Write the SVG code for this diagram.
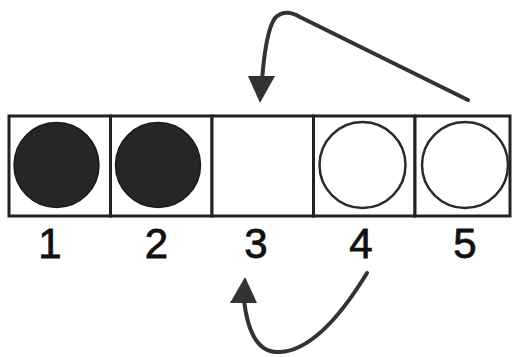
<svg xmlns="http://www.w3.org/2000/svg" width="512" height="357" viewBox="0 0 512 357">
<style>
.cell{fill:#fff;stroke:#222;stroke-width:3}
.full{fill:#262626;stroke:#1a1a1a;stroke-width:1.5}
.empty{fill:#fff;stroke:#2a2a2a;stroke-width:2.5}
.lbl{font-family:"Liberation Sans",Arial,sans-serif;font-size:42px;fill:#111;stroke:#111;stroke-width:0.8;text-anchor:middle}
.conn{fill:none;stroke:#333;stroke-width:4;stroke-linecap:round}
.head{fill:#333}
</style>
<rect width="512" height="357" fill="#fff"/>
<g id="cell1"><rect class="cell" x="9" y="116" width="101.5" height="100"/><circle class="full" cx="56.5" cy="165" r="42.5"/><text class="lbl" x="50" y="258">1</text></g>
<g id="cell2"><rect class="cell" x="110.5" y="116" width="101.5" height="100"/><circle class="full" cx="158" cy="165" r="42.5"/><text class="lbl" x="156.5" y="258">2</text></g>
<g id="cell3"><rect class="cell" x="212" y="116" width="101.5" height="100"/><text class="lbl" x="256" y="258">3</text></g>
<g id="cell4"><rect class="cell" x="313.5" y="116" width="101.5" height="100"/><circle class="empty" cx="362.5" cy="165" r="43"/><text class="lbl" x="361" y="258">4</text></g>
<g id="cell5"><rect class="cell" x="415" y="116" width="95" height="100"/><circle class="empty" cx="465" cy="165" r="43"/><text class="lbl" x="465" y="258">5</text></g>
<g id="connectors">
<path class="conn" d="M468 100 L300 17 Q285 8 275 18 Q266 30 262 80"/>
<polygon class="head" points="248,76 275,76 260,103"/>
<path class="conn" d="M367 273 Q320 350 280 352 Q250 354 244 300"/>
<polygon class="head" points="230,303 257,303 245,277"/>
</g>
</svg>
